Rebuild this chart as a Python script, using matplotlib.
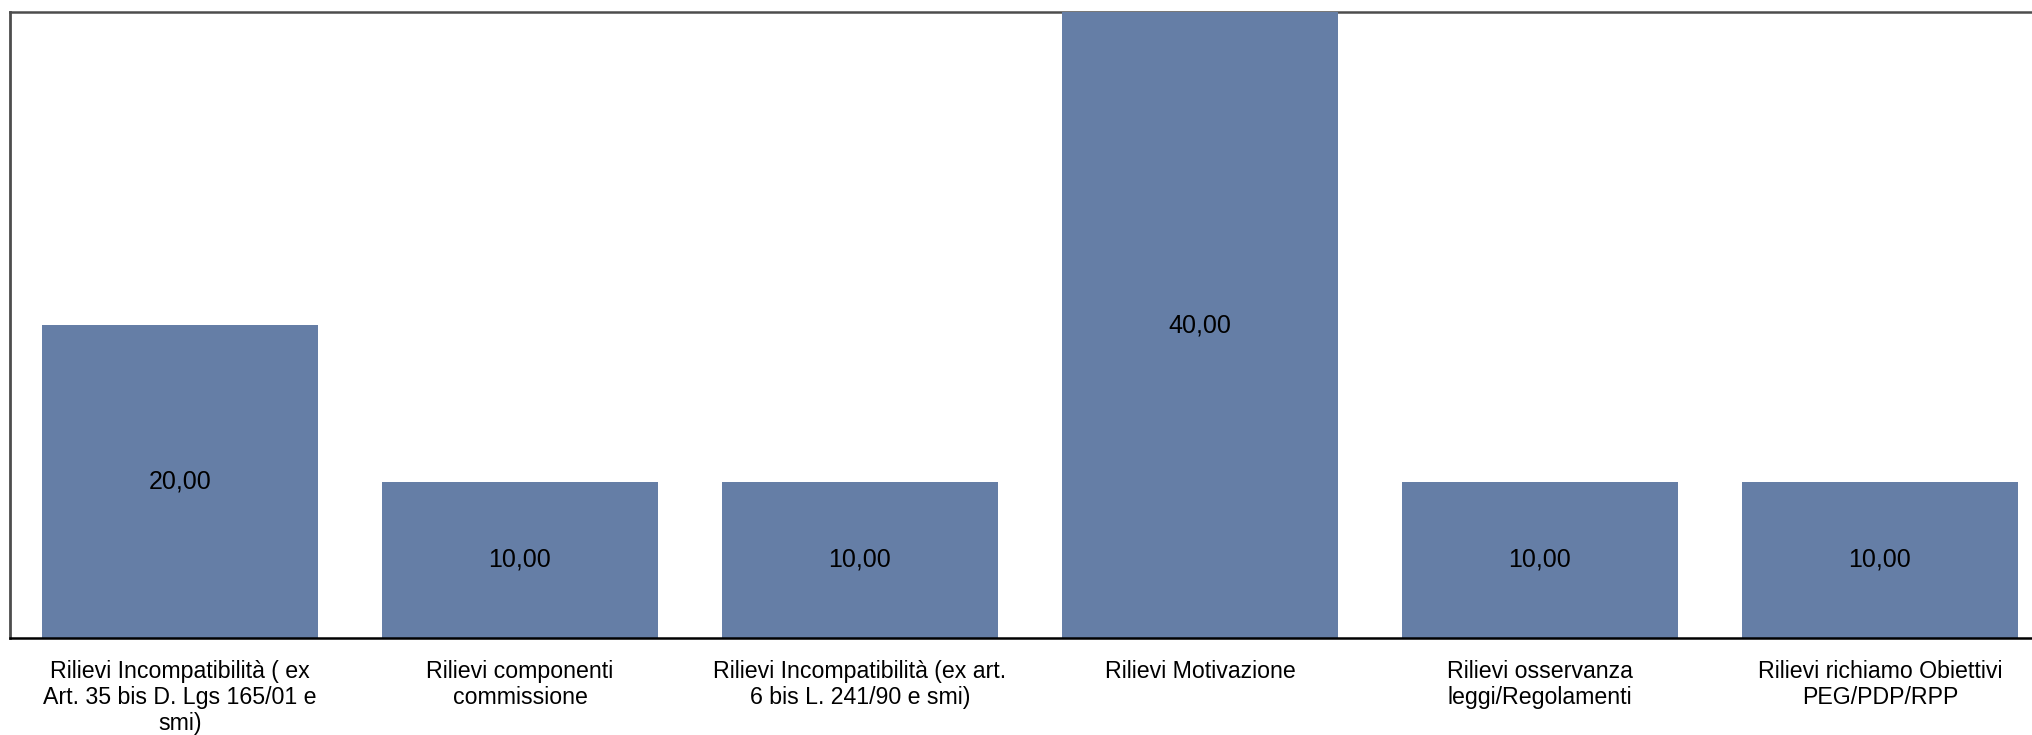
import matplotlib
matplotlib.use("Agg")
import matplotlib.pyplot as plt

plt.rcParams['font.family'] = ['Liberation Sans', 'DejaVu Sans']

categories = [
    "Rilievi Incompatibilità ( ex\nArt. 35 bis D. Lgs 165/01 e\nsmi)",
    "Rilievi componenti\ncommissione",
    "Rilievi Incompatibilità (ex art.\n6 bis L. 241/90 e smi)",
    "Rilievi Motivazione",
    "Rilievi osservanza\nleggi/Regolamenti",
    "Rilievi richiamo Obiettivi\nPEG/PDP/RPP",
]
values = [20.0, 10.0, 10.0, 40.0, 10.0, 10.0]

W, H = 2033, 735
fig = plt.figure(figsize=(W / 100, H / 100), dpi=100)
left, right, bottom, top = 10, 2050, 638, 12
ax = fig.add_axes([left / W, (H - bottom) / H, (right - left) / W, (bottom - top) / H])

x = list(range(len(values)))
bars = ax.bar(x, values, width=0.812, color='#657ea6', zorder=1)
ax.set_xlim(-0.5, len(values) - 0.5)
ax.set_ylim(0, 40)

for xi, v in zip(x, values):
    ax.text(xi, v / 2, f"{v:.2f}".replace('.', ','), ha='center', va='center',
            fontsize=18, color='black', zorder=3)

ax.set_xticks(x)
ax.set_xticklabels(categories, fontsize=16.7, linespacing=1.16)
ax.tick_params(axis='x', length=0, pad=16)
ax.set_yticks([])

ax.spines['right'].set_visible(False)
ax.spines['left'].set_color('#4d4d4d')
ax.spines['left'].set_linewidth(2)
ax.spines['top'].set_color('#4d4d4d')
ax.spines['top'].set_linewidth(1.8)
ax.spines['top'].set_zorder(0.5)
ax.spines['bottom'].set_color('black')
ax.spines['bottom'].set_linewidth(1.8)
ax.spines['bottom'].set_zorder(3)

fig.savefig('out.png', dpi=100)
